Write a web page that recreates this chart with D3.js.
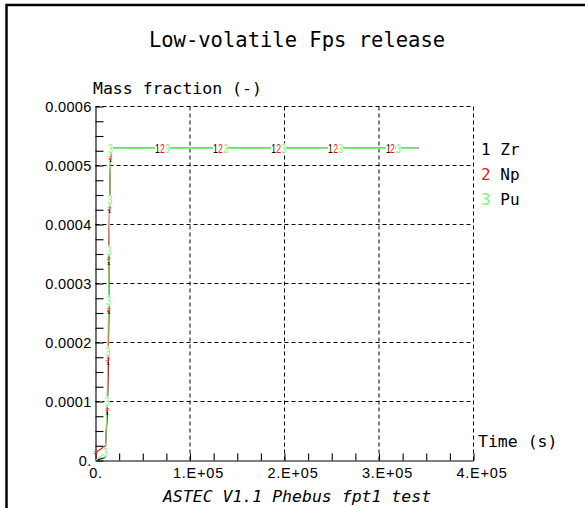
<!DOCTYPE html>
<html>
<head>
<meta charset="utf-8">
<script src="https://cdn.jsdelivr.net/npm/d3@7"></script>
<style>
  body { margin: 0; background: #fff; }
  svg { display: block; }
</style>
</head>
<body>
<div id="chart"></div>
<script>
const width = 585
const height = 508

// axis ticks
const xTicks = [0, 1e5, 2e5, 3e5, 4e5]
const xTickLabels = ["0.", "1.E+05", "2.E+05", "3.E+05", "4.E+05"]
const yTicks = [0, 0.0001, 0.0002, 0.0003, 0.0004, 0.0005, 0.0006]
const yTickLabels = ["0.", "0.0001", "0.0002", "0.0003", "0.0004", "0.0005", "0.0006"]

// series (time in s, mass fraction)
const names = ["Zr", "Np", "Pu"]
const colours = ["#000000", "#ff1010", "#7ff07f"]

const zrTime = [0, 10000, 12500, 13500, 14100, 14100, 14800, 15900, 16300, 65600, 127000, 188400, 248700, 310000, 341800]
const zrMass = [0, 0.000005, 0.0000797, 0.000164, 0.000251, 0.000334, 0.000422, 0.000508, 0.000529, 0.000529, 0.000529, 0.000529, 0.000529, 0.000529, 0.000529]
const zrLabelled = [2, 3, 4, 5, 6, 7, 9, 10, 11, 12, 13]

const npTime = [0, 300, 10500, 12500, 13500, 14100, 14100, 14800, 15900, 16300, 70900, 132300, 193700, 254000, 314300, 341800]
const npMass = [0, 0.0000136, 0.000025, 0.0000864, 0.000171, 0.000256, 0.000342, 0.000427, 0.000514, 0.000529, 0.000529, 0.000529, 0.000529, 0.000529, 0.000529, 0.000529]
const npLabelled = [1, 3, 4, 5, 6, 7, 8, 10, 11, 12, 13, 14]

const puTime = [0, 10600, 12200, 13000, 13800, 14400, 15200, 15900, 76200, 137600, 199000, 259300, 320600, 341800]
const puMass = [0, 0.0000136, 0.0001, 0.000185, 0.000271, 0.000356, 0.000442, 0.000529, 0.000529, 0.000529, 0.000529, 0.000529, 0.000529, 0.000529]
const puLabelled = [1, 2, 3, 4, 5, 6, 7, 8, 9, 10, 11, 12]

const series = [
  { id: 1, name: names[0], colour: colours[0], t: zrTime, v: zrMass, labelled: zrLabelled },
  { id: 2, name: names[1], colour: colours[1], t: npTime, v: npMass, labelled: npLabelled },
  { id: 3, name: names[2], colour: colours[2], t: puTime, v: puMass, labelled: puLabelled }
]

const mono = "'DejaVu Sans Mono', monospace"
const sans = "'Liberation Sans', Arial, sans-serif"

const x = d3.scaleLinear().domain([0, 4e5]).range([95.5, 473.5])
const y = d3.scaleLinear().domain([0, 0.0006]).range([460.5, 106.5])

const svg = d3.select("#chart")
  .append("svg")
    .attr("width", width)
    .attr("height", height)

// outer frame (runs off the right and bottom edges)
svg.append("rect")
    .attr("x", 6.5)
    .attr("y", 5)
    .attr("width", 620)
    .attr("height", 620)
    .attr("fill", "none")
    .attr("stroke", "#000")
    .attr("stroke-width", 2.5)

svg.append("text")
    .attr("x", 297)
    .attr("y", 47)
    .attr("text-anchor", "middle")
    .style("font", `20.5px ${mono}`)
    .text("Low-volatile Fps release")

svg.append("text")
    .attr("x", 93)
    .attr("y", 94)
    .style("font", `16.5px ${mono}`)
    .text("Mass fraction (-)")

svg.append("text")
    .attr("x", 478)
    .attr("y", 447)
    .style("font", `16.5px ${mono}`)
    .text("Time (s)")

svg.append("text")
    .attr("x", 297)
    .attr("y", 502)
    .attr("text-anchor", "middle")
    .style("font", `italic 16.5px ${mono}`)
    .text("ASTEC V1.1 Phebus fpt1 test")

// dashed grid
const grid = svg.append("g")
    .attr("stroke", "#000")
    .attr("stroke-dasharray", "4,3")
    .attr("fill", "none")

grid.selectAll(".gx")
  .data(xTicks.slice(1))
  .join("line")
    .attr("x1", d => x(d)).attr("x2", d => x(d))
    .attr("y1", y(0)).attr("y2", y(0.0006))

grid.selectAll(".gy")
  .data(yTicks.slice(1))
  .join("line")
    .attr("y1", d => y(d)).attr("y2", d => y(d))
    .attr("x1", x(0)).attr("x2", x(4e5))

// minor ticks + solid axis lines
const yMinor = d3.range(0, 25).map(i => i * 0.000025)
const xMinor = d3.range(0, 17).map(i => i * 25000)

svg.append("g")
    .attr("transform", `translate(${x(0)},0)`)
    .call(d3.axisLeft(y).tickValues(yMinor).tickSize(-8).tickSizeOuter(0).tickFormat(""))
    .call(g => g.selectAll("line, path").attr("stroke", "#000").attr("stroke-width", 1.1))

svg.append("g")
    .attr("transform", `translate(0,${y(0)})`)
    .call(d3.axisBottom(x).tickValues(xMinor).tickSize(-7).tickSizeOuter(0).tickFormat(""))
    .call(g => g.selectAll("line, path").attr("stroke", "#000").attr("stroke-width", 1.1))

// tick labels
svg.append("g")
    .attr("transform", `translate(${x(0)},0)`)
    .call(d3.axisLeft(y).tickValues(yTicks).tickSize(0).tickPadding(4).tickFormat((d, i) => yTickLabels[i]))
    .call(g => g.select(".domain").remove())
    .call(g => g.selectAll("text")
      .attr("fill", "#000")
      .style("font", `14.5px ${sans}`)
      .style("letter-spacing", "0.3px"))

svg.append("g")
    .attr("transform", `translate(0,${y(0)})`)
    .call(d3.axisBottom(x).tickValues(xTicks).tickSize(0).tickPadding(7).tickFormat((d, i) => xTickLabels[i]))
    .call(g => g.select(".domain").remove())
    .call(g => g.selectAll("text")
      .attr("fill", "#000")
      .attr("dx", d => d === 0 ? 0 : 8)
      .style("font", `14.5px ${sans}`)
      .style("letter-spacing", "0.8px"))

// curves
const line = d3.line()
    .x(d => x(d[0]))
    .y(d => y(d[1]))

const pts = s => s.t.map((t, i) => [t, s.v[i]])

svg.append("g")
    .attr("fill", "none")
  .selectAll("path")
  .data(series)
  .join("path")
    .attr("stroke", d => d.colour)
    .attr("stroke-width", 1.1)
    .attr("d", d => line(pts(d)))

// curve number markers (narrow glyphs so neighbouring numbers just touch)
series.forEach((s, k) => {
  const p = pts(s)
  const g = svg.append("g")
  s.labelled.forEach(i => {
    const px = x(p[i][0])
    const py = y(p[i][1])
    const prev = p[i - 1]
    const steep = Math.abs(y(prev[1]) - py) > Math.abs(x(prev[0]) - px)
    if (steep && k < 2) {
      // hidden under the rising curve: only a sliver of the number shows
      g.append("text")
        .attr("transform", `translate(${px},${py}) scale(0.8,0.35)`)
        .attr("text-anchor", "middle")
        .attr("dy", "0.35em")
        .attr("fill", s.colour)
        .style("font", `11px ${sans}`)
        .text(s.id)
      return
    }
    g.append("rect")
      .attr("x", px - 2.5)
      .attr("y", py - 5)
      .attr("width", 5)
      .attr("height", 10)
      .attr("fill", "#fff")
    g.append("text")
      .attr("transform", `translate(${px},${py}) scale(0.72,1)`)
      .attr("dy", "0.36em")
      .attr("text-anchor", "middle")
      .attr("fill", s.colour)
      .style("font", `12px ${sans}`)
      .text(s.id)
  })
})

// legend
const legend = svg.append("g")
  .selectAll("text")
  .data(series)
  .join("text")
    .attr("x", 481)
    .attr("y", (d, i) => 155 + i * 25)
    .style("font", `16px ${mono}`)

legend.append("tspan")
    .attr("fill", d => d.colour)
    .text(d => d.id)

legend.append("tspan")
    .attr("fill", "#000")
    .text(d => " " + d.name)
</script>
</body>
</html>
